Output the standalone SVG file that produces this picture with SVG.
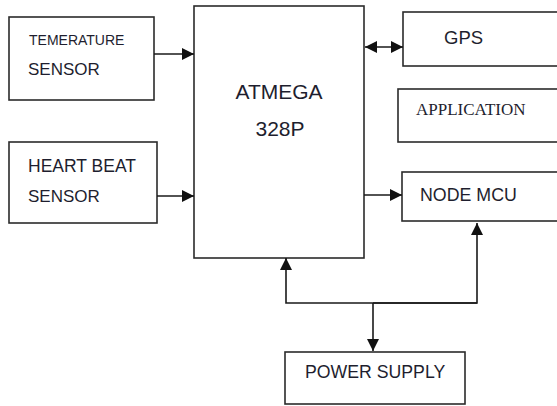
<svg xmlns="http://www.w3.org/2000/svg" width="557" height="406" viewBox="0 0 557 406">
<style>
.box{fill:#fff;stroke:#2b2b2b;stroke-width:1.6}
.t{font-family:"Liberation Sans",Arial,sans-serif;fill:#1e1e2e}
.s{font-family:"Liberation Serif","Times New Roman",serif;fill:#1e1e2e}
.c{fill:none;stroke:#1a1a1a;stroke-width:1.6}
</style>
<defs>
<marker id="ah" viewBox="0 0 12 12" refX="12" refY="6" markerWidth="12" markerHeight="12" markerUnits="userSpaceOnUse" orient="auto-start-reverse">
<path d="M0,0 L12,6 L0,12 Z" fill="#111"/>
</marker>
</defs>
<rect width="557" height="406" fill="#fff"/>
<g id="temp">
<rect class="box" x="9" y="17" width="145" height="83"/>
<text class="t" x="29" y="45" font-size="14">TEMERATURE</text>
<text class="t" x="28" y="75" font-size="17">SENSOR</text>
</g>
<g id="heart">
<rect class="box" x="9" y="142" width="148" height="81"/>
<text class="t" x="28" y="172" font-size="17.5">HEART BEAT</text>
<text class="t" x="28" y="202" font-size="17">SENSOR</text>
</g>
<g id="atmega">
<rect class="box" x="194" y="6" width="170" height="252"/>
<text class="t" x="279" y="99" font-size="21" text-anchor="middle">ATMEGA</text>
<text class="t" x="280" y="136" font-size="21" text-anchor="middle">328P</text>
</g>
<g id="gps">
<rect class="box" x="403" y="12" width="160" height="54"/>
<text class="t" x="444" y="44" font-size="18.5">GPS</text>
</g>
<g id="app">
<rect class="box" x="398" y="89" width="165" height="53"/>
<text class="s" x="416" y="115" font-size="17">APPLICATION</text>
</g>
<g id="nodemcu">
<rect class="box" x="402" y="172" width="161" height="49"/>
<text class="t" x="420" y="201" font-size="17.8">NODE MCU</text>
</g>
<g id="power">
<rect class="box" x="285" y="352" width="180" height="52"/>
<text class="t" x="305" y="378" font-size="17.7">POWER SUPPLY</text>
</g>
<g id="connectors">
<line class="c" x1="154" y1="54" x2="194" y2="54" marker-end="url(#ah)"/>
<line class="c" x1="157" y1="196" x2="194" y2="196" marker-end="url(#ah)"/>
<line class="c" x1="365" y1="47" x2="403" y2="47" marker-start="url(#ah)" marker-end="url(#ah)"/>
<line class="c" x1="364" y1="195" x2="402" y2="195" marker-end="url(#ah)"/>
<path class="c" d="M477,303 L286,303 L286,258" marker-end="url(#ah)"/>
<path class="c" d="M373,303 L477,303 L477,223" marker-end="url(#ah)"/>
<line class="c" x1="373" y1="303" x2="373" y2="351" marker-end="url(#ah)"/>
</g>
</svg>
